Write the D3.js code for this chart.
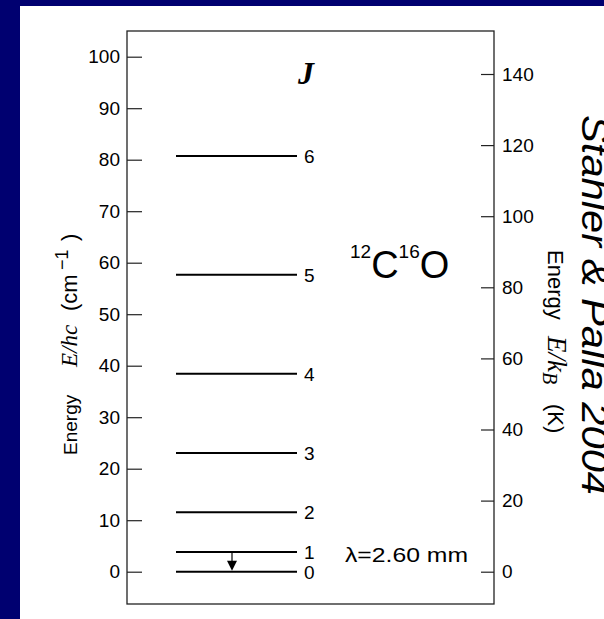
<!DOCTYPE html>
<html><head><meta charset="utf-8">
<script src="https://cdn.jsdelivr.net/npm/d3@7"></script>
<style>body{margin:0;background:#fff} svg{display:block}</style>
</head><body><svg id="c" width="604" height="619"></svg>
<script>
// Rotational energy ladder of 12C16O
const leftTicks = [0, 10, 20, 30, 40, 50, 60, 70, 80, 90, 100];   // cm^-1
const rightTicks = [0, 20, 40, 60, 80, 100, 120, 140];            // K
const levelJ = [0, 1, 2, 3, 4, 5, 6];
const levelEnergy = [0, 3.845, 11.535, 23.07, 38.45, 57.67, 80.74]; // E/hc in cm^-1
const transition = {upper: 1, lower: 0, label: "λ=2.60 mm"};

const svg = d3.select("#c");
const W = 604, H = 619;
const navy = "#000070";

// page frame
svg.append("rect").attr("width", W).attr("height", H).attr("fill", "#fff");
svg.append("rect").attr("x", 0).attr("y", 0).attr("width", 20).attr("height", H).attr("fill", navy);
svg.append("rect").attr("x", 0).attr("y", 0).attr("width", W).attr("height", 6).attr("fill", navy);

const box = {x0: 127, x1: 494, y0: 31, y1: 604};
const yL = d3.scaleLinear().domain([0, 100]).range([571.7, 56.7]);
const yR = d3.scaleLinear().domain([0, 140]).range([571.7, 74]);
const xL = d3.scaleLinear().domain([0, 1]).range([176, 297]);

const sans = "'Liberation Sans', Arial, Helvetica, sans-serif";
const serif = "'Liberation Serif', 'Times New Roman', serif";

// frame
svg.append("rect")
  .attr("x", box.x0).attr("y", box.y0)
  .attr("width", box.x1 - box.x0).attr("height", box.y1 - box.y0)
  .attr("fill", "none").attr("stroke", "#222").attr("stroke-width", 1.3);

// left axis (ticks point inward)
const gl = svg.append("g").attr("transform", `translate(${box.x0},0)`)
  .call(d3.axisLeft(yL).tickValues(leftTicks).tickSize(-15).tickPadding(7));
gl.select(".domain").remove();
gl.selectAll("line").attr("stroke", "#222").attr("stroke-width", 1.2);
gl.selectAll("text").attr("font-family", sans).attr("font-size", 19).attr("fill", "#000");

// right axis
const gr = svg.append("g").attr("transform", `translate(${box.x1},0)`)
  .call(d3.axisRight(yR).tickValues(rightTicks).tickSize(-13).tickPadding(8));
gr.select(".domain").remove();
gr.selectAll("line").attr("stroke", "#222").attr("stroke-width", 1.2);
gr.selectAll("text").attr("font-family", sans).attr("font-size", 19).attr("fill", "#000");

// energy levels
const lv = svg.append("g");
lv.selectAll("line").data(levelJ).join("line")
  .attr("x1", xL(0)).attr("x2", xL(1))
  .attr("y1", (d, i) => yL(levelEnergy[i])).attr("y2", (d, i) => yL(levelEnergy[i]))
  .attr("stroke", "#000").attr("stroke-width", 2);
lv.selectAll("text").data(levelJ).join("text")
  .attr("x", xL(1) + 7).attr("y", (d, i) => yL(levelEnergy[i]))
  .attr("dy", "0.36em")
  .attr("font-family", sans).attr("font-size", 19)
  .text(d => d);

// J heading
svg.append("text").attr("x", 298).attr("y", 84)
  .attr("font-family", serif).attr("font-style", "italic").attr("font-weight", "bold")
  .attr("font-size", 32).text("J");

// transition arrow 1 -> 0
const ax = 232;
const yTop = yL(levelEnergy[transition.upper]);
const yBot = yL(levelEnergy[transition.lower]);
svg.append("line").attr("x1", ax).attr("x2", ax).attr("y1", yTop).attr("y2", yBot - 9)
  .attr("stroke", "#000").attr("stroke-width", 1.2);
svg.append("path")
  .attr("d", `M${ax - 5},${yBot - 11}L${ax + 5},${yBot - 11}L${ax},${yBot - 1}Z`)
  .attr("fill", "#000");

svg.append("text").attr("x", 345).attr("y", 562)
  .attr("font-family", sans).attr("font-size", 20)
  .attr("textLength", 123).attr("lengthAdjust", "spacingAndGlyphs")
  .text(transition.label);

// molecule label
const mol = svg.append("text").attr("x", 350).attr("y", 278)
  .attr("font-family", sans).attr("font-size", 38);
mol.append("tspan").attr("font-size", 19).attr("dy", -20).text("12");
mol.append("tspan").attr("dy", 20).text("C");
mol.append("tspan").attr("font-size", 19).attr("dy", -20).text("16");
mol.append("tspan").attr("dy", 20).text("O");

// left axis title, reading upward; each piece placed along the rotated axis
const lt = svg.append("g").attr("transform", "translate(77,0) rotate(-90)");
const leftTitle = [
  {t: "Energy", at: 455, size: 19, family: sans, italic: false, shift: 0},
  {t: "E/hc", at: 367, size: 23, family: serif, italic: true, shift: 0},
  {t: "(cm", at: 311, size: 22, family: sans, italic: false, shift: 0},
  {t: "−1", at: 270, size: 18, family: sans, italic: false, shift: -9},
  {t: ")", at: 241, size: 22, family: sans, italic: false, shift: 0}
];
lt.selectAll("text").data(leftTitle).join("text")
  .attr("x", d => -d.at).attr("y", d => d.shift)
  .attr("font-family", d => d.family).attr("font-size", d => d.size)
  .attr("font-style", d => d.italic ? "italic" : "normal")
  .text(d => d.t);

// right axis title, reading downward
const rt = svg.append("g").attr("transform", "translate(548,0) rotate(90)");
const rightTitle = [
  {t: "Energy", at: 250, size: 22, family: sans, italic: false, shift: 0},
  {t: "E/k", at: 336, size: 27, family: serif, italic: true, shift: 0},
  {t: "B", at: 372, size: 20, family: serif, italic: true, shift: 5},
  {t: "(K)", at: 404, size: 22, family: sans, italic: false, shift: 0}
];
rt.selectAll("text").data(rightTitle).join("text")
  .attr("x", d => d.at).attr("y", d => d.shift)
  .attr("font-family", d => d.family).attr("font-size", d => d.size)
  .attr("font-style", d => d.italic ? "italic" : "normal")
  .text(d => d.t);

// credit
svg.append("g").attr("transform", "translate(582,0) rotate(90)")
  .append("text").attr("x", 115).attr("y", 0)
  .attr("font-family", sans).attr("font-style", "italic").attr("font-size", 37)
  .attr("textLength", 380).attr("lengthAdjust", "spacingAndGlyphs")
  .text("Stahler & Palla 2004");
</script></body></html>
